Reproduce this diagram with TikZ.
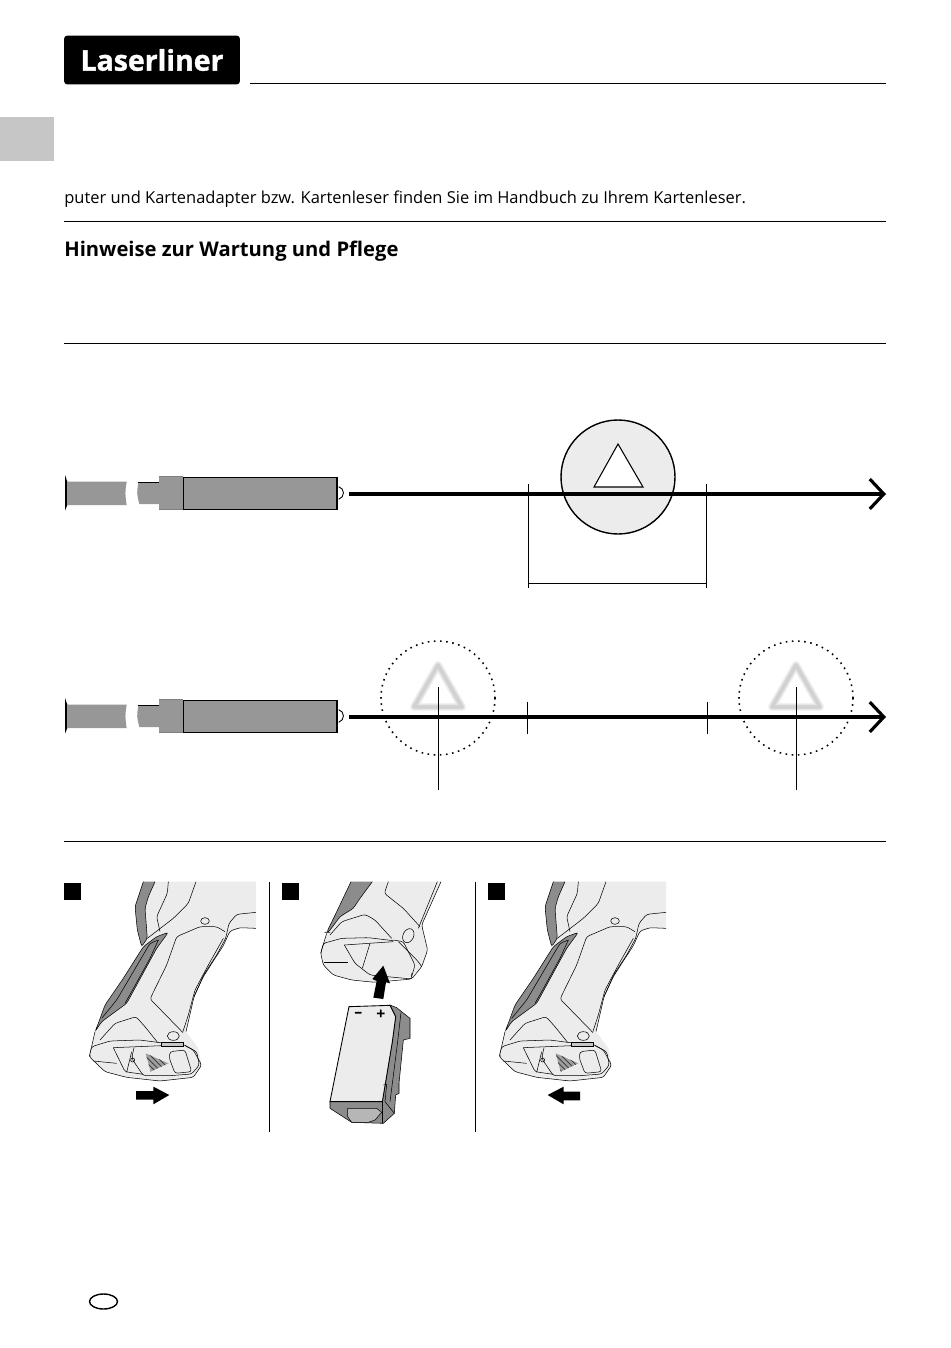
\documentclass[tikz,border=0pt]{standalone}
\usepackage{fontspec}
\setmainfont{Open Sans}
\newfontfamily\logofont[BoldFeatures={FakeBold=1.2}]{Open Sans}
\usetikzlibrary{arrows.meta,patterns}
\definecolor{tabgray}{HTML}{C6C6C6}
\definecolor{bodygray}{HTML}{ECECEC}
\definecolor{probegray}{HTML}{979797}
\definecolor{darkgray}{HTML}{8C8C8C}
\tikzset{
    rulerline/.style={line width=0.55pt},
    thinline/.style={line width=0.5pt},
    axisline/.style={-{Straight Barb[length=8pt,width=17pt,line width=1.8pt]},line width=1.8pt},
    gripline/.style={line width=0.3pt,rounded corners=1.5pt},
    gripbody/.style={gripline,fill=bodygray},
    gripdark/.style={gripline,fill=darkgray},
    blockarrow/.style={fill=black,draw=none},
    numbox/.style={fill=black,draw=none},
    % Probe drawn in units of a third of a pixel
    probe/.pic={
        \fill[black] (45,45) -- (52,65) -- (52,135) -- (45,152) -- cycle;
        \fill[probegray] (52,65) -- (230,65) .. controls (225,100) .. (230,135) -- (52,135) -- cycle;
        \fill[probegray] (265,68) .. controls (260,100) .. (268,132) -- (328,132) -- (328,68) -- cycle;
        \draw[thinline] (265,68) -- (328,68);
        \fill[probegray] (328,48) rectangle (400,148);
        \fill[probegray] (400,52) rectangle (862,148);
        \draw[thinline] (400,52) -- (862,52) (400,148) -- (862,148) (400,50) -- (400,148);
        \draw[line width=0.3pt,draw=gray] (328,48) -- (400,48) (328,148) -- (400,148);
        \draw[line width=1pt] (862,50) -- (862,150);
        \draw[thinline] (866,80) .. controls (885,85) and (885,112) .. (866,118);
    },
    % Pistol grip with the battery door shut
    grip/.pic={
        % Body
        \fill[bodygray] (285,20) -- (588,20) -- (588,160) -- (540,158) -- (510,168) -- (490,212) -- (465,250) -- (430,305) -- (402,365) -- (378,470) -- (415,520) -- (425,570) -- (400,607) -- (300,618) -- (200,607) -- (135,590) -- (88,545) -- (105,470) -- (190,310) -- (250,215) -- (262,190) -- (255,85) -- cycle;
        \draw[gripline] (588,160) -- (540,158) -- (510,168) -- (490,212) -- (465,250) -- (430,305) -- (402,365) -- (378,470);
        % Back strap
        \fill[darkgray] (250,20) -- (285,20) -- (265,65) -- (255,100) -- (262,190) -- (245,215) -- (232,165) -- (225,95) -- cycle;
        \draw[gripline] (285,20) -- (265,65) -- (255,100) -- (262,190) -- (245,215) -- (232,165) -- (225,95) -- (250,20);
        \draw[gripline] (325,20) -- (322,55) -- (290,125) -- (300,170);
        \draw[gripline] (408,20) -- (385,85) -- (340,130) -- (262,190);
        \draw[line width=0.3pt] (435,138) ellipse [x radius=13, y radius=10];
        % Front strap
        \draw[gripline] (588,112) -- (530,118) -- (507,145) -- (497,190) -- (470,240) -- (432,298) -- (402,365);
        \draw[gripline] (495,170) -- (470,155) -- (420,155) -- (350,185) -- (320,270) -- (270,372) -- (290,392) -- (368,472);
        \draw[gripline] (490,190) -- (445,270) -- (405,345) -- (385,420) -- (368,472);
        % Dark panel
        \draw[gripdark] (325,172) -- (290,185) -- (250,215) -- (190,310) -- (135,390) -- (115,445) -- (105,470) -- (125,440) -- (200,385) -- (230,330) -- (290,220) -- cycle;
        \draw[gripline] (295,195) -- (270,205) -- (220,290) -- (170,375) -- (125,430);
        \draw[gripline] (295,195) -- (270,250) -- (215,350) -- (195,385);
        % Foot
        \draw[gripline] (105,470) -- (88,545);
        \draw[gripline] (120,495) -- (165,445) -- (228,425) -- (255,455) -- (295,505);
        \draw[line width=0.3pt] (340,483) ellipse [x radius=18, y radius=13];
        \draw[gripbody] (88,545) -- (95,515) -- (150,498) -- (240,495) -- (300,503) -- (370,508) -- (400,525) -- (425,570) -- (400,607) -- (300,618) -- (200,607) -- (135,590) -- cycle;
        \draw[gripline] (100,558) -- (170,565);
        \draw[line width=0.3pt,fill=tabgray] (305,503) rectangle (370,515);
        % Battery door
        \draw[gripline] (160,518) -- (305,512);
        \draw[gripline] (160,518) -- (195,590) -- (250,598);
        \draw[gripline] (222,518) -- (215,550) -- (250,602) -- (330,602) -- (395,597) -- (418,570) -- (410,530) -- (375,512);
        \draw[gripline] (215,530) -- (200,592);
        \draw[line width=0.3pt] (218,555) circle [radius=6];
        \draw[gripline] (330,530) -- (375,525) -- (395,590) -- (345,595) -- (328,550) -- cycle;
        \fill[gray!75] (257,535) -- (325,565) -- (272,590) -- cycle;
        \fill[pattern=north west lines,pattern color=black!80] (257,535) -- (325,565) -- (272,590) -- cycle;
    }
}
\begin{document}
\begin{tikzpicture}[x=0.02cm,y=-0.02cm]
    \useasboundingbox (0,0) rectangle (950,1348);
    % Header
    \node[fill=black,rounded corners=2pt,minimum width=3.52cm,minimum height=0.98cm,inner sep=0pt,text=white,font=\fontsize{16.2}{17}\selectfont\logofont\bfseries] (logo) at (152,60) {Laserliner};
    \coordinate (headerleft) at (250,83);
    \coordinate (headerright) at (886,83);
    \draw[rulerline] (headerleft) -- (headerright);
    \fill[tabgray] (0,117) rectangle (54,161);
    % Text
    \node[anchor=base west,inner sep=0pt,font=\fontsize{9.37}{11}\selectfont] (adapter) at (64,204) {puter und Kartenadapter bzw. Kartenleser finden Sie im Handbuch zu Ihrem Kartenleser.};
    \draw[rulerline] (64,221) -- (886,221);
    \node[anchor=base west,inner sep=0pt,font=\fontsize{11.5}{13}\selectfont\bfseries] (care) at (64,256) {Hinweise zur Wartung und Pflege};
    \draw[rulerline] (64,343) -- (886,343);
    % Upper probe
    \pic[scale=1/3] at (50,460) {probe};
    \draw[fill=bodygray,line width=0.8pt] (618,477) circle[radius=57];
    \draw[fill=white,line width=0.6pt] (618,444) -- (594,487) -- (643,487) -- cycle;
    \coordinate (upstart) at (349,494);
    \coordinate (upend) at (886,494);
    \draw[axisline] (upstart) -- (upend);
    \draw[thinline] (528,484) -- (528,588);
    \draw[thinline] (706,484) -- (706,588);
    \draw[thinline] (528,583) -- (706,583);
    % Lower probe
    \pic[scale=1/3] at (50,683) {probe};
    \foreach \cx in {438,796}{
        \draw[gray!8,line width=4.8pt,line join=round] (\cx,665) -- (\cx-24,707) -- (\cx+24,707) -- cycle;
        \draw[gray!16,line width=3.8pt,line join=round] (\cx,665) -- (\cx-24,707) -- (\cx+24,707) -- cycle;
        \draw[gray!26,line width=2.8pt,line join=round] (\cx,665) -- (\cx-24,707) -- (\cx+24,707) -- cycle;
        \draw[gray!36,line width=1.8pt,line join=round] (\cx,665) -- (\cx-24,707) -- (\cx+24,707) -- cycle;
        \draw[line width=0.9pt,dash pattern=on 0.9pt off 2.6pt] (\cx,698) circle[radius=57];
        \draw[thinline] (\cx,687) -- (\cx,790);
    }
    \coordinate (lowstart) at (349,717);
    \coordinate (lowend) at (886,717);
    \draw[axisline] (lowstart) -- (lowend);
    \draw[thinline] (527,702) -- (527,734);
    \draw[thinline] (707,702) -- (707,734);
    \draw[rulerline] (64,841) -- (886,841);
    % Number boxes and dividers
    \fill[numbox] (64,883) rectangle (81,900);
    \fill[numbox] (282,883) rectangle (299,900);
    \fill[numbox] (488,883) rectangle (505,900);
    \draw[rulerline] (269,882) -- (269,1132);
    \draw[rulerline] (475,882) -- (475,1132);
    % Grip, door to the right
    \pic[scale=1/3] at (60,875) {grip};
    \fill[blockarrow,shift={(60,875)},scale=1/3] (228,648) -- (280,648) -- (280,635) -- (328,660) -- (280,688) -- (280,674) -- (228,674) -- cycle;
    % Grip with battery
    \begin{scope}[shift={(275,875)},scale=1/3]
        \fill[bodygray] (228,20) -- (498,20) -- (440,150) -- (458,225) -- (440,275) -- (410,305) -- (300,322) -- (230,315) -- (175,300) -- (145,270) -- (137,235) -- (155,175) -- cycle;
        \draw[gripline] (498,20) -- (440,150) -- (458,225) -- (440,275) -- (410,312) -- (300,322) -- (230,315) -- (175,300) -- (145,270) -- (137,235) -- (155,175);
        \fill[darkgray] (228,20) -- (292,20) -- (255,70) -- (235,100) -- (195,125) -- (160,172) -- (155,172) -- (190,100) -- cycle;
        \draw[gripline] (292,20) -- (255,70) -- (235,100) -- (195,125) -- (160,172) -- (155,172) -- (190,100) -- (228,20);
        \draw[gripline] (340,20) -- (328,55) -- (385,100) -- (435,155);
        \draw[gripline] (487,20) -- (430,160);
        \draw[gripline] (165,180) -- (200,140) -- (270,118) -- (300,135) -- (350,190);
        \draw[gripline] (137,235) -- (145,205) -- (200,190) -- (280,188) -- (355,197);
        \draw[line width=0.3pt,rotate around={-25:(400,182)}] (400,182) ellipse [x radius=16, y radius=22];
        \draw[gripline] (208,210) -- (355,200);
        \draw[gripline] (208,210) -- (240,265) -- (285,300) -- (410,312) -- (410,295);
        \draw[gripline] (285,205) -- (262,280);
        \draw[gripline] (146,262) -- (220,262);
        \draw[gripline] (355,195) -- (385,200) -- (420,270) -- (410,305);
        \draw[gripline] (370,200) -- (430,260) -- (440,275);
        \fill[blockarrow] (325,272) -- (345,325) -- (333,322) -- (325,372) -- (295,368) -- (305,318) -- (292,312) -- cycle;
        % Battery
        \draw[line width=0.3pt,fill=darkgray] (345,390) -- (365,398) -- (405,430) -- (405,490) -- (385,495) -- (372,625) -- (372,655) -- (362,660) -- (358,715) -- (325,745) -- (230,742) -- (165,700) -- (165,680) -- (322,680) -- (352,500) -- (362,425) -- cycle;
        \draw[line width=0.5pt,fill=bodygray] (222,395) -- (345,391) -- (362,425) -- (352,500) -- (322,680) -- (165,680) -- cycle;
        \draw[line width=0.3pt] (378,412) -- (368,500) -- (345,680);
        \draw[line width=0.3pt] (325,630) -- (335,628) -- (330,680) -- (358,715);
        \draw[line width=0.3pt] (322,680) -- (322,745);
        \draw[line width=0.3pt,fill=probegray!70] (218,700) -- (305,700) -- (320,712) -- (300,735) -- (280,742) -- (230,742) -- (218,725) -- cycle;
        \node[inner sep=0pt,font=\fontsize{9}{9}\selectfont\bfseries] (minus) at (250,420) {–};
        \node[inner sep=0pt,font=\fontsize{9}{9}\selectfont\bfseries] (plus) at (318,418) {+};
    \end{scope}
    % Grip, door to the left
    \pic[scale=1/3] at (470,875) {grip};
    \fill[blockarrow,shift={(485,875)},scale=1/3] (285,650) -- (236,650) -- (236,635) -- (188,660) -- (236,688) -- (236,676) -- (285,676) -- cycle;
    % Language mark
    \draw[line width=0.8pt] (103.5,1301.5) ellipse [x radius=14, y radius=7.5];
\end{tikzpicture}
\end{document}
